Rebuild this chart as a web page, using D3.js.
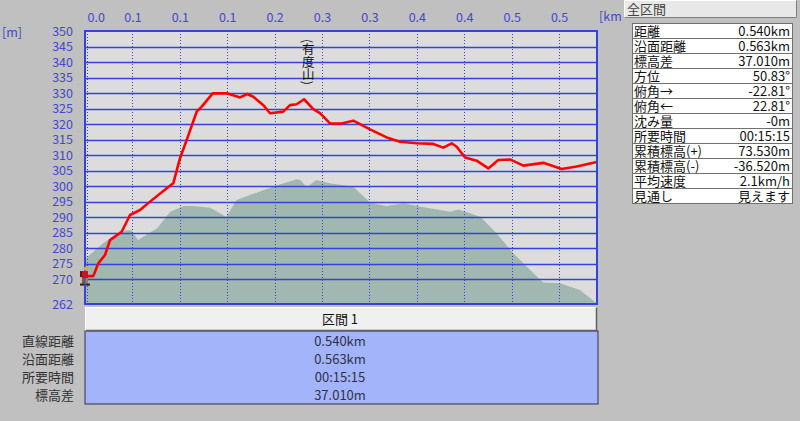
<!DOCTYPE html>
<html><head><meta charset="utf-8">
<script src="https://cdn.jsdelivr.net/npm/d3@7"></script>
<style>
html,body{margin:0;padding:0;background:#c0c0c0;}
svg{display:block;}
text{font-family:"Noto Sans CJK JP","Noto Sans",sans-serif;}
</style></head>
<body><svg id="c" width="800" height="421"></svg>
<script>
// ---- data ----
const terrainDist = [0,0.019,0.030,0.044,0.049,0.056,0.076,0.090,0.104,0.114,0.132,0.149,0.160,0.181,0.198,0.223,0.227,0.234,0.244,0.258,0.283,0.301,0.318,0.336,0.353,0.385,0.394,0.417,0.434,0.452,0.466,0.483,0.501,0.522,0.540];
const terrainElev = [276.5,281.6,283.9,285.8,285.8,282.6,286.4,291.7,293.6,293.6,293.0,290.1,295.5,297.9,299.8,302.2,302.0,299.6,302.0,300.9,299.8,294.6,293.6,294.5,293.4,291.7,292.5,290.1,284.8,278.3,274.0,268.9,268.7,266.5,262.2];
const routeDist = [0,0.0088,0.0140,0.0211,0.0264,0.0387,0.0475,0.0580,0.0686,0.0862,0.0931,0.1002,0.1073,0.1178,0.1231,0.1347,0.1495,0.1635,0.1712,0.1775,0.1881,0.1951,0.2091,0.2162,0.2233,0.2310,0.2408,0.2478,0.2584,0.2707,0.2830,0.3006,0.3182,0.3322,0.3498,0.3673,0.3779,0.3868,0.3920,0.4008,0.4131,0.4254,0.4359,0.4482,0.4623,0.4834,0.5028,0.5186,0.5397];
const routeElev = [271.0,271.0,275.1,277.8,282.6,285.3,290.7,292.3,295.0,299.3,300.9,309.0,314.9,324.0,325.6,329.9,329.9,328.6,329.7,328.8,326.1,323.5,324.0,326.1,326.4,328.0,324.8,323.5,320.2,320.2,321.1,318.3,315.7,314.3,313.8,313.6,312.4,313.8,312.7,309.2,308.2,305.7,308.4,308.6,306.6,307.5,305.5,306.3,307.8];
const xTickValues = [0,0.05,0.10,0.15,0.20,0.25,0.30,0.35,0.40,0.45,0.50];
const xTickLabels = ["0.0","0.1","0.1","0.1","0.2","0.3","0.3","0.4","0.4","0.5","0.5"];
const yTickValues = [350,345,340,335,330,325,320,315,310,305,300,295,290,285,280,275,270,262];
const yGridValues = [345,340,335,330,325,320,315,310,305,300,295,290,285,280,275,270];
const peakName = "(有度山)";
const peakDist = 0.2345;
const summaryLabels = ["距離","沿面距離","標高差","方位","俯角→","俯角←","沈み量","所要時間","累積標高(+)","累積標高(-)","平均速度","見通し"];
const summaryValues = ["0.540km","0.563km","37.010m","50.83°","-22.81°","22.81°","-0m","00:15:15","73.530m","-36.520m","2.1km/h","見えます"];
const sectionTitle = "区間 1";
const sectionLabels = ["直線距離","沿面距離","所要時間","標高差"];
const sectionValues = ["0.540km","0.563km","00:15:15","37.010m"];

// ---- layout ----
const L=85, R=597, T=31, B=304;
const x = d3.scaleLinear().domain([0,0.540]).range([L,R]);
const y = d3.scaleLinear().domain([262,350]).range([B,T]);
const svg = d3.select("#c");
const blue = "#3542dc", labBlue = "#4448cc";

svg.append("rect").attr("width",800).attr("height",421).attr("fill","#c0c0c0");
svg.append("defs").append("clipPath").attr("id","clip").append("rect")
  .attr("x",L).attr("y",T).attr("width",R-L).attr("height",B-T);
svg.append("rect").attr("x",L).attr("y",T).attr("width",R-L).attr("height",B-T).attr("fill","#dcdcdc");

const plot = svg.append("g").attr("clip-path","url(#clip)");
const terrain = terrainDist.map((d,i)=>[d,terrainElev[i]]);
plot.append("path").datum(terrain)
  .attr("d", d3.area().x(d=>x(d[0])).y0(y(262)).y1(d=>y(d[1])))
  .attr("fill","#a0b8b0");

plot.selectAll("line.h").data(yGridValues).join("line").attr("class","h")
  .attr("x1",L).attr("x2",R).attr("y1",d=>Math.round(y(d))+0.5).attr("y2",d=>Math.round(y(d))+0.5)
  .attr("stroke",blue).attr("stroke-width",1.6);
plot.selectAll("line.v").data(xTickValues.slice(1)).join("line").attr("class","v")
  .attr("x1",d=>Math.round(x(d))+0.5).attr("x2",d=>Math.round(x(d))+0.5).attr("y1",T).attr("y2",B)
  .attr("stroke",blue).attr("stroke-width",1).attr("stroke-dasharray","1,2");
plot.append("line").attr("x1",L+2.5).attr("x2",L+2.5).attr("y1",T).attr("y2",B)
  .attr("stroke",blue).attr("stroke-width",1).attr("stroke-dasharray","1,2");

const route = routeDist.map((d,i)=>[d,routeElev[i]]);
plot.append("path").datum(route)
  .attr("d", d3.line().x(d=>x(d[0])).y(d=>y(d[1])))
  .attr("fill","none").attr("stroke","#ff0000").attr("stroke-width",2.6).attr("stroke-linejoin","round");

svg.append("rect").attr("x",L).attr("y",T).attr("width",R-L).attr("height",B-T)
  .attr("fill","none").attr("stroke",blue).attr("stroke-width",2);

// peak label (vertical)
svg.append("text").attr("x",x(peakDist)+1).attr("y",39)
  .style("writing-mode","vertical-rl").attr("font-size",12.5).attr("fill","#111")
  .text(peakName);

// hiker at start
const hx = x(routeDist[0]), hy = y(routeElev[0]);
const hk = svg.append("g").attr("transform",`translate(${hx},${hy})`);
hk.append("rect").attr("x",-5).attr("y",-5).attr("width",3).attr("height",6).attr("fill","#701018");
hk.append("circle").attr("cx",1).attr("cy",-7.5).attr("r",2.2).attr("fill","#f0a040");
hk.append("rect").attr("x",-3).attr("y",-5).attr("width",6).attr("height",7).attr("fill","#c01828");
hk.append("rect").attr("x",-3).attr("y",2).attr("width",2.5).attr("height",6).attr("fill","#7a6040");
hk.append("rect").attr("x",0.5).attr("y",2).attr("width",2.5).attr("height",6).attr("fill","#9a8060");
hk.append("rect").attr("x",-5).attr("y",7.5).attr("width",4).attr("height",2).attr("fill","#302010");
hk.append("rect").attr("x",1).attr("y",7.5).attr("width",4).attr("height",2).attr("fill","#302010");

// axes labels
const yAx = svg.append("g").attr("transform",`translate(${L},0)`)
  .call(d3.axisLeft(y).tickValues(yTickValues).tickSize(0).tickPadding(12));
yAx.select(".domain").remove();
yAx.selectAll("text").attr("fill",labBlue).attr("font-size",12.5).style("font-family",'"Noto Sans CJK JP",sans-serif');

const xAx = svg.append("g").attr("transform",`translate(0,${T})`)
  .call(d3.axisTop(x).tickValues(xTickValues).tickSize(0).tickPadding(9).tickFormat((d,i)=>xTickLabels[i]));
xAx.select(".domain").remove();
xAx.selectAll("text").attr("fill",labBlue).attr("font-size",12.5).style("font-family",'"Noto Sans CJK JP",sans-serif');
xAx.selectAll(".tick").filter((d,i)=>i===0).select("text").attr("text-anchor","start").attr("x",2);

svg.append("text").attr("x",2).attr("y",37).attr("fill",labBlue).attr("font-size",12.5).text("[m]");
svg.append("text").attr("x",599).attr("y",21).attr("fill",labBlue).attr("font-size",12.5).text("[km]");

// bottom section table
svg.append("rect").attr("x",L).attr("y",331).attr("width",598-L).attr("height",73)
  .attr("fill","#a4b4fa").attr("stroke","#303050").attr("stroke-width",1);
svg.append("rect").attr("x",L+0.5).attr("y",307.5).attr("width",511).attr("height",23)
  .attr("fill","#f0f0f0").attr("stroke","#ffffff").attr("stroke-width",1);
svg.append("path").attr("d",`M${L+0.5},330.5 H596.5 V307.5`).attr("fill","none").attr("stroke","#606060").attr("stroke-width",1.5);
svg.append("text").attr("x",340).attr("y",324).attr("text-anchor","middle").attr("font-size",13).attr("fill","#111").text(sectionTitle);
const rowY = d3.scalePoint().domain(d3.range(sectionLabels.length)).range([341.5,395]);
svg.selectAll("text.sl").data(sectionLabels).join("text").attr("class","sl")
  .attr("x",74).attr("y",(d,i)=>rowY(i)+4.5).attr("text-anchor","end").attr("font-size",13).attr("fill","#333").text(d=>d);
svg.selectAll("text.sv").data(sectionValues).join("text").attr("class","sv")
  .attr("x",340).attr("y",(d,i)=>rowY(i)+4.5).attr("text-anchor","middle").attr("font-size",13).attr("fill","#303048").text(d=>d);

// right summary panel
svg.append("rect").attr("x",621).attr("y",0).attr("width",179).attr("height",421).attr("fill","#c0c0c0");
svg.append("rect").attr("x",624.5).attr("y",0.5).attr("width",172).attr("height",17)
  .attr("fill","#e8e8e8").attr("stroke","#ffffff");
svg.append("path").attr("d","M624.5,17.5 H796.5 V0.5").attr("fill","none").attr("stroke","#808080");
svg.append("text").attr("x",627).attr("y",14).attr("font-size",13).attr("fill","#444").text("全区間");
const rowH = 15, top0 = 23;
const rows = svg.append("g");
rows.selectAll("rect").data(summaryLabels).join("rect")
  .attr("x",632.5).attr("y",(d,i)=>top0+i*rowH+0.5).attr("width",160).attr("height",rowH)
  .attr("fill","#ffffff").attr("stroke","#707070");
rows.selectAll("text.l").data(summaryLabels).join("text").attr("class","l")
  .attr("x",634).attr("y",(d,i)=>top0+i*rowH+12.5).attr("font-size",13).attr("fill","#111").text(d=>d);
rows.selectAll("text.v").data(summaryValues).join("text").attr("class","v")
  .attr("x",790).attr("y",(d,i)=>top0+i*rowH+12.5).attr("text-anchor","end").attr("font-size",13).attr("fill","#111").text(d=>d);
</script></body></html>
